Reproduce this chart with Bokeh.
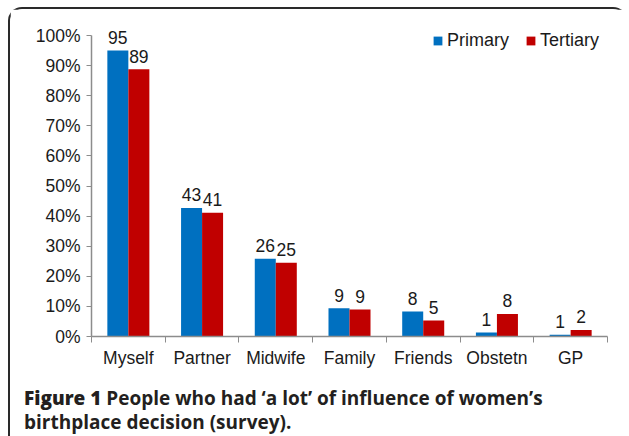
import numpy as np
from bokeh.plotting import figure
from bokeh.models import (ColumnDataSource, Range1d, FixedTicker, Legend, LegendItem, Div)
from bokeh.layouts import column
from bokeh.core.properties import value
from bokeh.embed import file_html
from bokeh.resources import INLINE

categories = ["Myself", "Partner", "Midwife", "Family", "Friends", "Obstetn", "GP"]
primary = [95.0, 42.7, 25.8, 9.4, 8.3, 1.3, 0.6]
tertiary = [88.8, 41.1, 24.5, 9.0, 5.3, 7.5, 2.2]
primary_labels = ["95", "43", "26", "9", "8", "1", "1"]
tertiary_labels = ["89", "41", "25", "9", "5", "8", "2"]
y_ticks = [0, 10, 20, 30, 40, 50, 60, 70, 80, 90, 100]
caption_head = "Figure 1"
caption_line1 = "People who had \u2018a lot\u2019 of influence of women\u2019s"
caption_line2 = "birthplace decision (survey)."

BLUE = "#0070C0"
RED = "#C00000"
AXIS = "#8c8c8c"
TXT = "#1a1a1a"
FONT = "Liberation Sans"

centers = np.arange(len(categories)) + 0.5
bw = 0.285

src_p = ColumnDataSource(dict(x=centers - bw / 2, top=primary, lab=primary_labels))
src_t = ColumnDataSource(dict(x=centers + bw / 2, top=tertiary, lab=tertiary_labels))

p = figure(width=617, height=363, output_backend="svg", toolbar_location=None,
           x_range=Range1d(0, len(categories)), y_range=Range1d(0, 106))
p.min_border_left = 81
p.min_border_right = 20
p.min_border_top = 8
p.min_border_bottom = 36
p.outline_line_color = None
p.grid.visible = False
p.background_fill_color = "white"
p.border_fill_color = "white"

r1 = p.vbar(x="x", top="top", width=bw, source=src_p, fill_color=BLUE, line_color=None)
r2 = p.vbar(x="x", top="top", width=bw, source=src_t, fill_color=RED, line_color=None)

for src in (src_p, src_t):
    p.text(x="x", y="top", text="lab", source=src, text_align="center",
           text_baseline="alphabetic", y_offset=-13, text_font=value(FONT),
           text_font_size="17.5px", text_color=TXT)

# x axis
xa = p.xaxis[0]
xa.ticker = FixedTicker(ticks=list(centers), minor_ticks=list(range(len(categories) + 1)))
xa.major_label_overrides = {float(c): n for c, n in zip(centers, categories)}
xa.major_tick_line_color = None
xa.major_tick_out = 0
xa.minor_tick_out = 6
xa.minor_tick_in = 0
xa.minor_tick_line_color = AXIS
xa.axis_line_color = AXIS
xa.axis_line_width = 1.5
xa.major_label_text_font = FONT
xa.major_label_text_font_size = "17.5px"
xa.major_label_text_color = TXT
xa.major_label_standoff = 5

# y axis
ya = p.yaxis[0]
ya.ticker = FixedTicker(ticks=y_ticks, minor_ticks=[])
ya.major_label_overrides = {t: f"{t}%" for t in y_ticks}
ya.bounds = (0, 100)
ya.major_tick_out = 5
ya.major_tick_in = 0
ya.major_tick_line_color = AXIS
ya.minor_tick_line_color = None
ya.axis_line_color = AXIS
ya.axis_line_width = 1.5
ya.major_label_text_font = FONT
ya.major_label_text_font_size = "17.5px"
ya.major_label_text_color = TXT
ya.major_label_standoff = 6

legend = Legend(items=[LegendItem(label="Primary", renderers=[r1]),
                       LegendItem(label="Tertiary", renderers=[r2])],
                orientation="horizontal", location=(341, 285),
                glyph_width=11, glyph_height=11, label_standoff=4, spacing=16,
                padding=0, margin=0, border_line_color=None,
                background_fill_alpha=0, label_text_font=FONT,
                label_text_font_size="18px", label_text_color=TXT)
p.add_layout(legend, "center")

cap_html = (
    '<div style="font-family:\'Open Sans\',sans-serif;font-size:19px;line-height:24px;'
    'color:#231f20;font-weight:700;padding:14px 0 0 14px;white-space:nowrap;">'
    f'<span style="font-weight:800">{caption_head}</span> {caption_line1}<br>'
    f'{caption_line2}</div>'
)
cap = Div(text=cap_html, width=600, height=66, margin=(0, 0, 0, 0))

layout = column(p, cap, spacing=0)
layout.styles = {"border-top": "2px solid #2a2a2a", "border-left": "2px solid #2a2a2a",
                 "border-top-left-radius": "14px", "border-top-right-radius": "14px",
                 "margin-left": "8px", "margin-top": "7px"}

open("out.html", "w").write(file_html(layout, INLINE))
